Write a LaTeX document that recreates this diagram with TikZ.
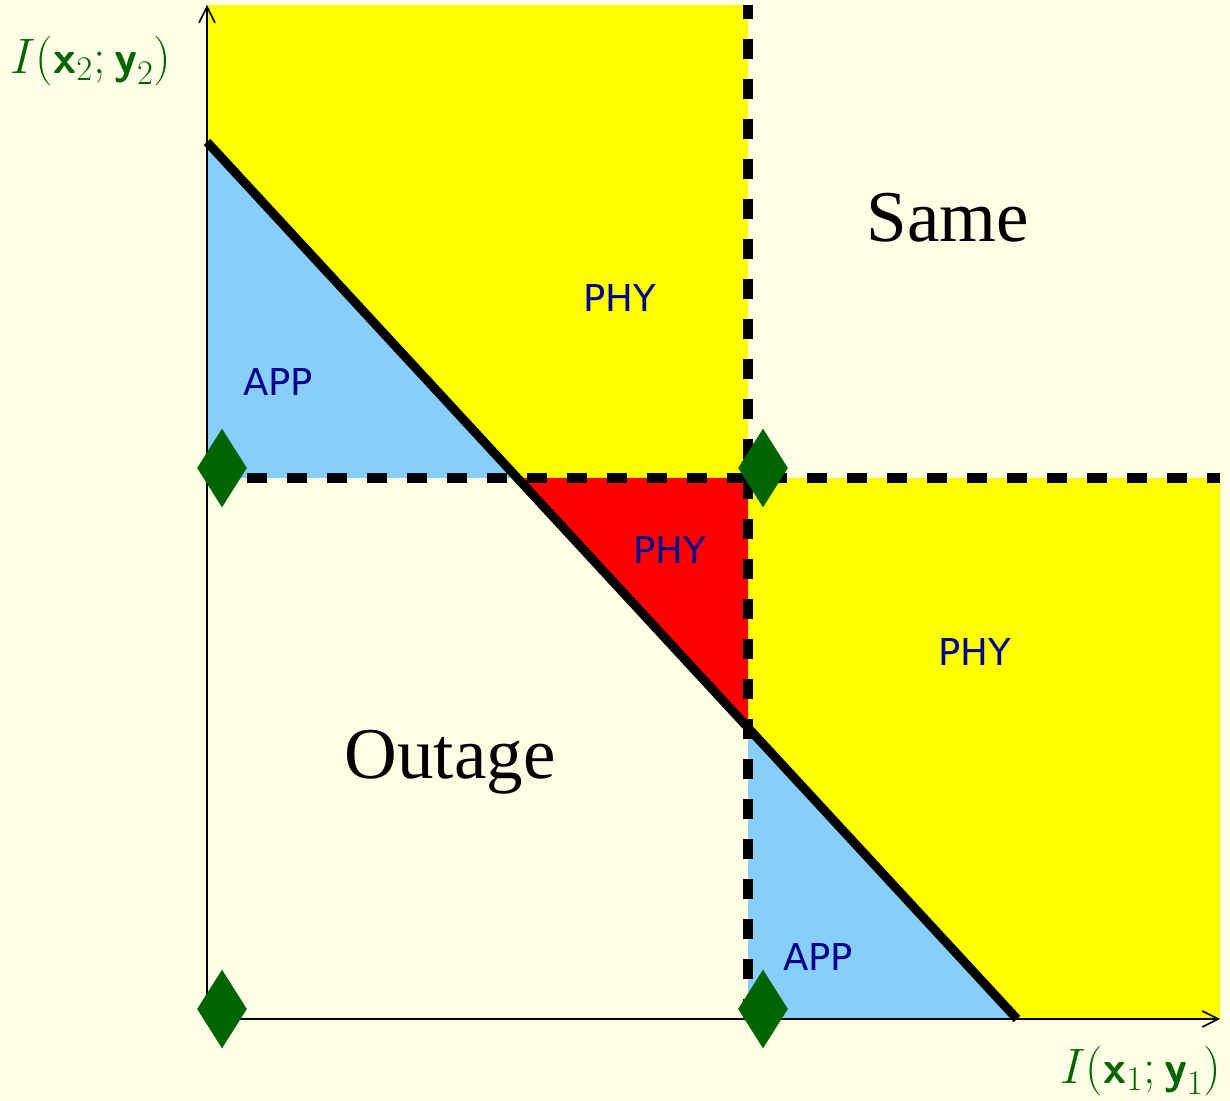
\documentclass[tikz,border=0pt]{standalone}
\usepackage{fontspec}
\newfontfamily\regionfont{DejaVu Sans}
\newfontfamily\zonefont{Liberation Serif}
\usetikzlibrary{shapes.geometric,arrows.meta}

\definecolor{paper}{RGB}{255,255,230}
\definecolor{appblue}{RGB}{135,206,250}
\definecolor{phyyellow}{RGB}{255,255,0}
\definecolor{phyred}{RGB}{255,0,0}
\definecolor{markgreen}{RGB}{0,100,0}
\definecolor{regionblue}{RGB}{0,0,140}

\begin{document}
\begin{tikzpicture}[x=0.5pt, y=0.5pt,
  axis/.style={line width=0.8pt, -{Straight Barb[length=8pt,width=8pt]}},
  bound/.style={line width=5pt, dash pattern=on 10pt off 10pt},
  rate/.style={line width=4.5pt},
  corner/.style={diamond, fill=markgreen, inner sep=0pt, minimum width=25pt, minimum height=39.5pt},
  region/.style={text=regionblue, font=\regionfont\fontsize{18.5}{22}\selectfont},
  zone/.style={font=\zonefont\fontsize{36.5}{42}\selectfont},
  axlabel/.style={text=markgreen, inner sep=0pt, font=\fontsize{23}{27}\selectfont}]

% page
\fill[paper] (-207,-82) rectangle (1023,1019);
\useasboundingbox (-207,-82) rectangle (1023,1019);

% corners of the rate plane
\coordinate (O) at (0,0);
\coordinate (ytop) at (0,1014);
\coordinate (xend) at (1013,0);
\coordinate (qx) at (541,0);
\coordinate (qy) at (0,541);
\coordinate (q) at (541,541);
\coordinate (qxtop) at (541,1014);
\coordinate (qyend) at (1013,541);
\coordinate (dtop) at (0,877);
\coordinate (dbot) at (810,0);
\coordinate (cross1) at (310.3,541);
\coordinate (cross2) at (541,291.3);

% regions
\fill[phyyellow] (ytop) -- (qxtop) -- (q) -- (cross1) -- (dtop) -- cycle;
\fill[phyyellow] (q) -- (qyend) -- (xend) -- (dbot) -- (cross2) -- cycle;
\fill[phyred] (cross1) -- (q) -- (cross2) -- cycle;
\fill[appblue] (dtop) -- (qy) -- (cross1) -- cycle;
\fill[appblue] (cross2) -- (qx) -- (dbot) -- cycle;

% single-user thresholds and sum-rate line
\draw[bound] (qy) -- (qyend);
\draw[bound] (qx) -- (qxtop);
\draw[rate] (dtop) -- (dbot);

% axes
\draw[axis] (O) -- (ytop);
\draw[axis] (O) -- (xend);

\node[axlabel] (ylab) at (-116,958) {$I(\textsf{\bfseries x}_2;\textsf{\bfseries y}_2)$};
\node[axlabel] (xlab) at (934,-52) {$I(\textsf{\bfseries x}_1;\textsf{\bfseries y}_1)$};

\node[zone] (same) at (741,801) {Same};
\node[zone] (outage) at (243,257) {Outage};

\node[region] (phytop) at (413,721) {PHY};
\node[region] (apptop) at (71,637) {APP};
\node[region] (phymid) at (463,469) {PHY};
\node[region] (phyright) at (768,367) {PHY};
\node[region] (appbot) at (611,62) {APP};

% operating points
\node[corner] (m1) at (15,10) {};
\node[corner] (m2) at (556,10) {};
\node[corner] (m3) at (15,551) {};
\node[corner] (m4) at (556,551) {};

\end{tikzpicture}
\end{document}
